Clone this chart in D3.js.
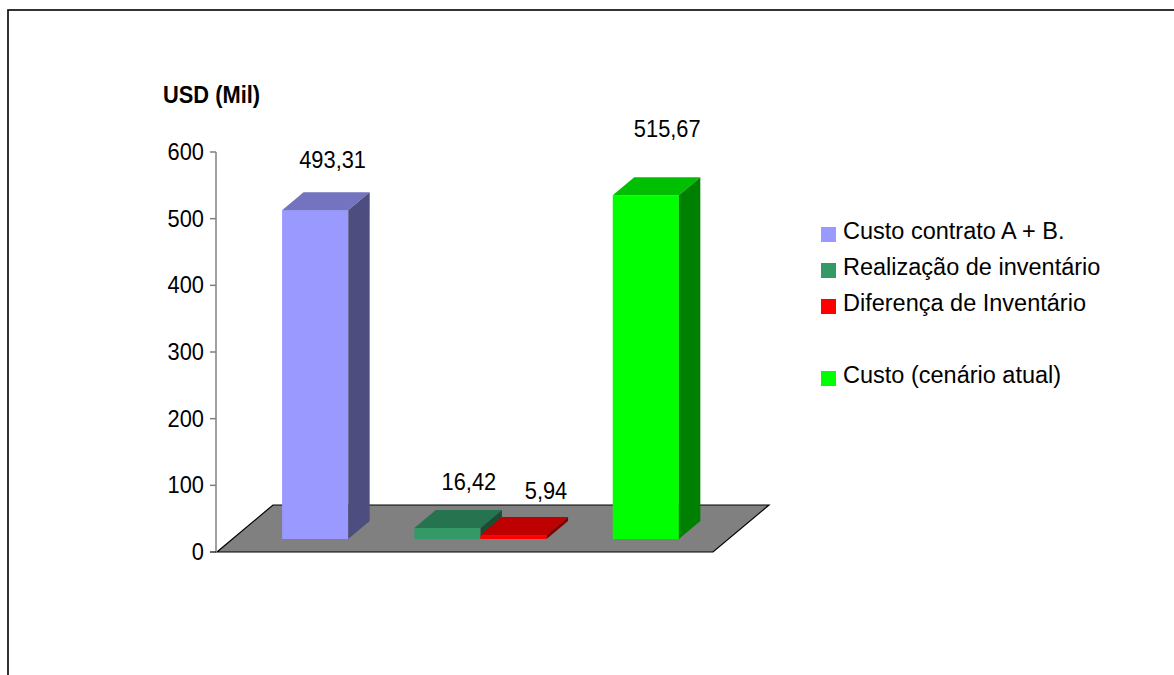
<!DOCTYPE html>
<html>
<head>
<meta charset="utf-8">
<script src="https://cdn.jsdelivr.net/npm/d3@7"></script>
<style>
  html, body { margin: 0; padding: 0; background: #fff; }
  svg { display: block; }
  text { font-family: "Liberation Sans", Arial, sans-serif; fill: #000; }
</style>
</head>
<body>
<svg id="chart" width="1174" height="675"></svg>
<script>
// Series shown as 3D columns (values in USD thousands)
const series = ["Custo contrato A + B.", "Realização de inventário", "Diferença de Inventário", "Custo (cenário atual)"];
const values = [493.31, 16.42, 5.94, 515.67];
// Column slots along the floor; the "gap" entries stay empty
const slots = ["Custo contrato A + B.", "gap-1", "Realização de inventário", "Diferença de Inventário", "gap-2", "Custo (cenário atual)"];
const yTicks = [0, 100, 200, 300, 400, 500, 600];
const yLabel = "USD (Mil)";
// Legend rows (an empty row separates the last entry)
const legendRows = [0, 1, 2, 4];

// Face colours per series: front, top, side
const frontColors = ["#9999FF", "#339966", "#FF0000", "#00FF00"];
const topColors   = ["#7373BF", "#267350", "#BF0000", "#00BF00"];
const sideColors  = ["#4D4D80", "#1A4D33", "#800000", "#008000"];

const svg = d3.select("#chart");
const txt = (g, x, y, s, size, anchor, weight, sx) =>
  g.append("text")
    .attr("transform", `translate(${x},${y}) scale(${sx || 0.95},1)`)
    .attr("text-anchor", anchor || "start")
    .attr("font-size", size)
    .attr("font-weight", weight || "normal")
    .text(s);

// Outer frame
svg.append("rect")
  .attr("x", 8).attr("y", 10).attr("width", 1300).attr("height", 800)
  .attr("fill", "none").attr("stroke", "#000").attr("stroke-width", 1.6);

// Geometry of the 3D plot box
const floorX0 = 217, floorX1 = 713, floorY = 552;
const depthX = 56, depthY = 47;       // full floor depth offset
const zFront = 13 / 47, zBack = 31 / 47; // column front/back depth

const y = d3.scaleLinear().domain([0, 600]).range([floorY, 152]);
const x = d3.scaleBand().domain(slots).range([floorX0, floorX1]).paddingInner(0).paddingOuter(0.75);

const off = z => [z * depthX, -z * depthY];

// Floor
const floorPts = [[floorX0, floorY], [floorX1, floorY], [floorX1 + depthX, floorY - depthY], [floorX0 + depthX, floorY - depthY]];
svg.append("polygon")
  .attr("points", floorPts.map(p => p.join(",")).join(" "))
  .attr("fill", "#808080").attr("stroke", "#000").attr("stroke-width", 1.2);

// Value axis
const axisX = 216;
const axis = svg.append("g");
axis.append("line")
  .attr("x1", axisX).attr("x2", axisX).attr("y1", y(600)).attr("y2", y(0))
  .attr("stroke", "#808080").attr("stroke-width", 1.5);
yTicks.forEach(t => {
  axis.append("line")
    .attr("x1", axisX - 6).attr("x2", axisX).attr("y1", y(t)).attr("y2", y(t))
    .attr("stroke", t === 0 ? "#000" : "#808080").attr("stroke-width", t === 0 ? 1.2 : 1.5);
  txt(axis, 204, y(t) + 8, String(t), 23, "end");
});

// Axis title
txt(svg, 163, 103, yLabel, 23, "start", "bold");

// Columns
const fmt = d3.formatLocale({ decimal: ",", thousands: ".", grouping: [3], currency: ["", ""] }).format(".2f");
const labelNudge = [[-4, -24], [0, -20], [11, -18], [0, -40]];
const [fx, fy] = off(zFront);
const [bx, by] = off(zBack);
const dX = bx - fx, dY = by - fy;

const bars = svg.append("g");
series.forEach((name, i) => {
  const v = values[i];
  const x0 = x(name) + fx, x1 = x(name) + x.bandwidth() + fx;
  const yb = y(0) + fy, yt = y(v) + fy;
  const g = bars.append("g");
  g.append("rect")
    .attr("x", x0).attr("y", yt).attr("width", x1 - x0).attr("height", yb - yt)
    .attr("fill", frontColors[i]);
  g.append("polygon")
    .attr("points", [[x0, yt], [x1, yt], [x1 + dX, yt + dY], [x0 + dX, yt + dY]].map(p => p.join(",")).join(" "))
    .attr("fill", topColors[i]);
  g.append("polygon")
    .attr("points", [[x1, yt], [x1 + dX, yt + dY], [x1 + dX, yb + dY], [x1, yb]].map(p => p.join(",")).join(" "))
    .attr("fill", sideColors[i]);
  const cx = (x0 + x1) / 2 + dX + labelNudge[i][0];
  txt(svg, cx, yt + dY + labelNudge[i][1], fmt(v), 23, "middle");
});

// Legend
const legend = svg.append("g");
legendRows.forEach((row, i) => {
  const base = 239 + row * 36;
  legend.append("rect")
    .attr("x", 821).attr("y", base - 12).attr("width", 15).attr("height", 15)
    .attr("fill", frontColors[i]);
  txt(legend, 843, base, series[i], 23.5, "start", "normal", 1.0);
});
</script>
</body>
</html>
